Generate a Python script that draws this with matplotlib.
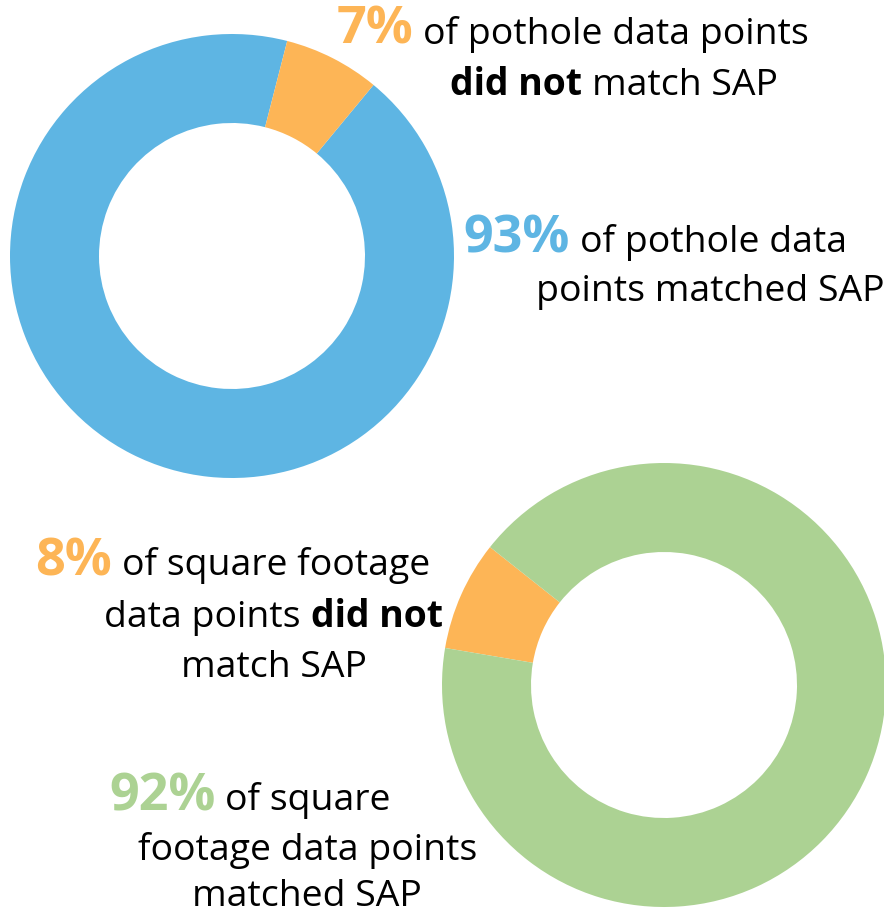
import matplotlib
matplotlib.use("Agg")
import matplotlib.pyplot as plt

# ---- data ----
pothole_labels = ["matched SAP", "did not match SAP"]
pothole_values = [93, 7]
sqft_labels = ["did not match SAP", "matched SAP"]
sqft_values = [8, 92]

BLUE = "#5EB5E3"
ORANGE = "#FDB556"
GREEN = "#ACD293"

W, H = 884, 913
fig = plt.figure(figsize=(W / 100, H / 100), dpi=100)
fig.patch.set_facecolor("white")

FONT = "Open Sans"
REG = 26.9
BIG = 37.5


def donut(cx, cy, R, values, colors, start, width):
    ax = fig.add_axes([(cx - R) / W, 1 - (cy + R) / H, 2 * R / W, 2 * R / H])
    ax.pie(values, colors=colors, startangle=start, counterclock=True,
           radius=1, wedgeprops=dict(width=width, linewidth=0))
    ax.set_xlim(-1, 1)
    ax.set_ylim(-1, 1)
    ax.set_aspect("equal")
    ax.axis("off")


donut(232, 256, 222, pothole_values, [BLUE, ORANGE], 75.6, 89 / 222)
donut(664, 685, 222, sqft_values, [ORANGE, GREEN], 141.6, 89 / 222)

renderer = fig.canvas.get_renderer()


def style(kind):
    if kind == "reg":
        return dict(fontsize=REG, fontweight="normal", color="black")
    if kind == "bold":
        return dict(fontsize=REG, fontweight="bold", color="black")
    if kind == "orange":
        return dict(fontsize=BIG, fontweight="bold", color=ORANGE)
    if kind == "blue":
        return dict(fontsize=BIG, fontweight="bold", color=BLUE)
    if kind == "green":
        return dict(fontsize=BIG, fontweight="bold", color=GREEN)


def measure(s, kind):
    t = fig.text(0, 0, s, family=FONT, **style(kind))
    w = t.get_window_extent(renderer).width
    t.remove()
    return w


SPACE = measure("n n", "reg") - measure("nn", "reg")


def line(pieces, cx, base):
    texts = []
    widths = []
    for s, kind in pieces:
        t = fig.text(0, 0, s, family=FONT, va="baseline", ha="left", **style(kind))
        texts.append(t)
        widths.append(t.get_window_extent(renderer).width)
    total = sum(widths) + SPACE * (len(pieces) - 1)
    x = cx - total / 2
    for t, w in zip(texts, widths):
        t.set_position((x / W, 1 - base / H))
        x += w + SPACE


line([("7%", "orange"), ("of pothole data points", "reg")], 572.5, 44)
line([("did not", "bold"), ("match SAP", "reg")], 614, 95)

line([("93%", "blue"), ("of pothole data", "reg")], 655, 252)
line([("points matched SAP", "reg")], 710, 301)

line([("8%", "orange"), ("of square footage", "reg")], 232.5, 575)
line([("data points", "reg"), ("did not", "bold")], 273.5, 627)
line([("match SAP", "reg")], 274, 677)

line([("92%", "green"), ("of square", "reg")], 250, 810)
line([("footage data points", "reg")], 307.5, 860)
line([("matched SAP", "reg")], 307, 906)

fig.savefig("out.png", dpi=100, facecolor="white")
